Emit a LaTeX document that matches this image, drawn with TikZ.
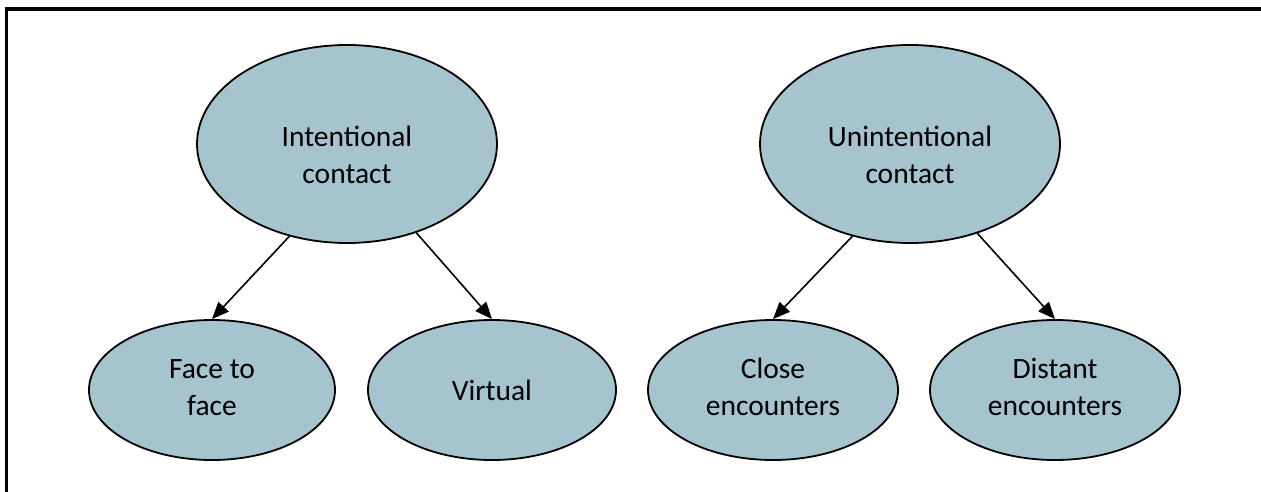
\documentclass[tikz,border=0pt]{standalone}
\usepackage{fontspec}
\setmainfont{Carlito}
\usetikzlibrary{shapes.geometric,arrows.meta}
\definecolor{bubble}{HTML}{A6C4CE}
\tikzset{
  bigoval/.style={ellipse, draw=black, line width=1.8pt, fill=bubble, inner sep=0pt,
    minimum width=300pt, minimum height=198pt},
  smalloval/.style={ellipse, draw=black, line width=1.8pt, fill=bubble, inner sep=0pt,
    minimum height=140pt},
  link/.style={line width=1.6pt, -{Triangle[length=17pt,width=14pt]}},
  frameline/.style={line width=3.5pt, line join=miter}
}
\newcommand{\twolines}[2]{\begin{tabular}{@{}c@{}}#1\\#2\end{tabular}}
\newcommand{\lowered}[1]{\raisebox{-14pt}[\height][\depth]{#1}}
\begin{document}
\begin{tikzpicture}[x=1pt,y=-1pt,font=\fontsize{29.5}{37}\selectfont]
\useasboundingbox (0,0) rectangle (1261,492);
\draw[frameline] (1262,9) -- (6.3,9) -- (6.3,493);
\node[bigoval] (intent) at (347,144) {\lowered{\twolines{Intentional}{contact}}};
\node[bigoval] (unintent) at (910,144) {\lowered{\twolines{Unintentional}{contact}}};
\node[smalloval, minimum width=246pt] (face) at (212,390) {\twolines{Face to}{face}};
\node[smalloval, minimum width=248pt] (virtual) at (492,390) {Virtual};
\node[smalloval, minimum width=250pt] (close) at (773,390) {\twolines{Close}{encounters}};
\node[smalloval, minimum width=250pt] (distant) at (1055,390) {\twolines{Distant}{encounters}};
\draw[link] (intent.238.5) -- (face.north);
\draw[link] (intent.308) -- (virtual.north);
\draw[link] (unintent.238) -- (close.north);
\draw[link] (unintent.307) -- (distant.north);
\end{tikzpicture}
\end{document}
